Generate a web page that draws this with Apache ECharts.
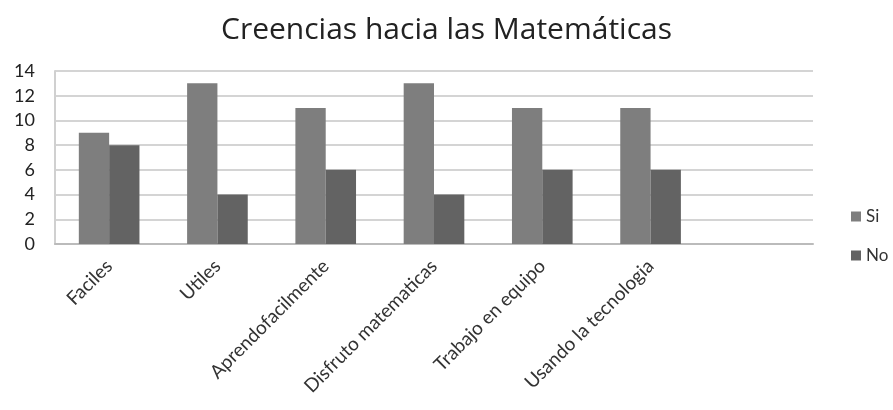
<!DOCTYPE html>
<html>
<head>
<meta charset="utf-8">
<script src="https://cdn.jsdelivr.net/npm/echarts@6/dist/echarts.min.js"></script>
<style>
html, body { margin: 0; padding: 0; background: #fff; }
#chart { width: 893px; height: 410px; }
</style>
</head>
<body>
<div id="chart"></div>
<script>
var categories = ['Faciles', 'Utiles', 'Aprendofacilmente', 'Disfruto matematicas', 'Trabajo en equipo', 'Usando la tecnologia', ''];
var siValues = [9, 13, 11, 13, 11, 11, null];
var noValues = [8, 4, 6, 4, 6, 6, null];
var yTicks = [0, 2, 4, 6, 8, 10, 12, 14];

var chart = echarts.init(document.getElementById('chart'));

var option = {
    textStyle: { fontFamily: 'Lato, "Open Sans", sans-serif' },
    title: {
        text: 'Creencias hacia las Matemáticas',
        left: 'center',
        top: 10,
        textStyle: { fontSize: 30, fontWeight: 'normal', color: '#222', fontFamily: '"Open Sans", Lato, sans-serif' }
    },
    legend: {
        orient: 'vertical',
        left: 846,
        top: 203,
        itemGap: 22,
        itemWidth: 10,
        itemHeight: 10,
        icon: 'rect',
        textStyle: { fontSize: 17, color: '#333' },
        data: ['Si', 'No']
    },
    grid: {
        left: 55,
        right: 80,
        top: 71,
        bottom: 166
    },
    xAxis: {
        type: 'category',
        data: categories,
        axisLine: { lineStyle: { color: '#bbb', width: 2 } },
        axisTick: { show: false },
        axisLabel: {
            interval: 0,
            rotate: 45,
            fontSize: 19,
            color: '#333',
            margin: 19
        }
    },
    yAxis: {
        type: 'value',
        min: 0,
        max: 14,
        interval: 2,
        axisLine: { show: true, lineStyle: { color: '#d0d0d0', width: 2 } },
        axisTick: { show: false },
        axisLabel: {
            fontSize: 18,
            color: '#222',
            margin: 20,
            formatter: function (v) { return yTicks.indexOf(v) >= 0 ? String(v) : ''; }
        },
        splitLine: { lineStyle: { color: '#d4d4d4', width: 2 } }
    },
    series: [
        {
            name: 'Si',
            type: 'bar',
            data: siValues,
            barGap: '0%',
            barCategoryGap: '44%',
            itemStyle: { color: '#7e7e7e' }
        },
        {
            name: 'No',
            type: 'bar',
            data: noValues,
            itemStyle: { color: '#636363' }
        }
    ]
};
chart.setOption(option);
</script>
</body>
</html>
